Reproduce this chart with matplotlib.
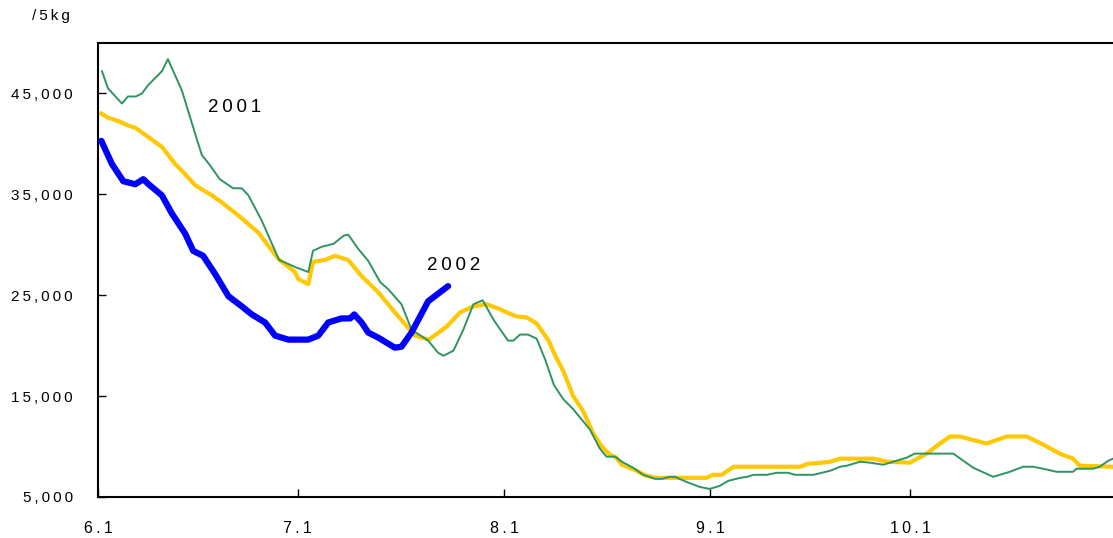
import matplotlib
matplotlib.use("Agg")
import matplotlib.pyplot as plt

# x = days since June 1
tick_days = [0, 30, 61, 92, 122]
tick_labels = ["6.1", "7.1", "8.1", "9.1", "10.1"]
y_ticks = [5000, 15000, 25000, 35000, 45000]

# 2001 (green thin line)
g_day = [0.6, 1.5, 3.6, 4.5, 5.7, 6.6, 7.5, 9.6, 10.5, 12.6, 14.6, 15.6, 16.8, 18.3,
         20.3, 21.6, 22.6, 24.6, 25.6, 27.2, 29.6, 31.6, 32.3, 33.6, 35.4, 36.9, 37.6,
         39.1, 40.6, 42.4, 43.6, 45.6, 47.1, 49.6, 51.1, 51.9, 53.4, 54.9, 56.4, 57.8,
         59.4, 61.6, 62.4, 63.4, 64.6, 65.9, 67.2, 68.5, 69.9, 71.4, 73.9, 75.4, 76.4,
         77.7, 78.7, 80.4, 81.9, 83.7, 84.7, 85.9, 86.7, 88.4, 90.4, 91.9, 93.4, 94.7,
         96.5, 97.5, 98.5, 100.5, 102.0, 103.7, 104.7, 107.5, 110.0, 111.5, 112.5, 114.5,
         116.0, 118.0, 119.5, 121.5, 122.7, 128.5, 131.5, 134.5, 137.0, 139.0, 140.5,
         142.0, 144.0, 146.5, 147.0, 149.5, 150.5, 151.8, 152.5]
g_val = [47200, 45500, 44000, 44700, 44700, 45000, 45800, 47200, 48400, 45300, 41000,
         38900, 37900, 36500, 35600, 35600, 34900, 32400, 30900, 28500, 27800, 27300,
         29400, 29800, 30100, 30900, 31000, 29600, 28400, 26300, 25600, 24100, 21600,
         20500, 19300, 19000, 19500, 21600, 24100, 24500, 22600, 20500, 20500, 21100,
         21100, 20700, 18600, 16100, 14700, 13700, 11700, 9800, 9000, 9000, 8500, 7900,
         7200, 6800, 6800, 7000, 7000, 6500, 6000, 5800, 6100, 6600, 6900, 7000, 7200,
         7200, 7400, 7400, 7200, 7200, 7600, 8000, 8100, 8500, 8400, 8200, 8500, 8900,
         9300, 9300, 7900, 7000, 7500, 8000, 8000, 7800, 7500, 7500, 7800, 7800, 8000,
         8600, 8800]

# average (yellow line)
a_day = [0.5, 1.5, 3.3, 4.6, 5.6, 7.1, 9.6, 11.6, 12.8, 14.6, 17.1, 18.6, 21.1, 24.1,
         27.1, 29.6, 30.1, 31.6, 32.3, 34.1, 35.6, 37.6, 39.6, 42.1, 44.6, 47.6, 49.7,
         52.4, 54.4, 56.4, 58.4, 60.1, 61.4, 62.9, 64.4, 65.9, 67.7, 68.7, 69.9, 71.4,
         72.9, 74.4, 75.7, 76.9, 77.9, 78.7, 80.6, 82.4, 83.9, 91.4, 92.4, 93.7, 95.5,
         105.5, 106.7, 108.7, 110.0, 111.5, 116.5, 118.5, 122.0, 124.5, 126.5, 128.0,
         129.5, 133.5, 136.5, 139.5, 142.0, 144.5, 146.5, 147.5, 152.5]
a_val = [43000, 42600, 42200, 41800, 41600, 40900, 39700, 38000, 37200, 35900, 34900,
         34200, 32900, 31200, 28600, 27300, 26600, 26100, 28300, 28500, 28900, 28500,
         26900, 25300, 23300, 21000, 20600, 21900, 23300, 23900, 24100, 23700, 23300,
         22900, 22800, 22200, 20500, 19000, 17500, 15000, 13500, 11300, 10000, 9200,
         8900, 8200, 7700, 7100, 6900, 6900, 7200, 7200, 8000, 8000, 8300, 8400, 8500,
         8800, 8800, 8500, 8400, 9300, 10300, 11000, 11000, 10300, 11000, 11000, 10200,
         9300, 8800, 8100, 8000]

# 2002 (blue thick line)
b_day = [0.5, 2.1, 3.8, 5.6, 6.8, 7.6, 9.6, 11.1, 13.1, 14.3, 15.8, 17.6, 19.6, 21.6,
         23.1, 25.1, 26.6, 28.6, 31.6, 33.1, 34.6, 36.6, 37.9, 38.5, 39.6, 40.6, 42.1,
         44.6, 45.6, 47.1, 49.6, 52.6]
b_val = [40300, 38000, 36300, 36000, 36500, 36000, 34900, 33100, 31100, 29400, 28900,
         27100, 24900, 23900, 23100, 22300, 21000, 20600, 20600, 21000, 22300, 22700,
         22700, 23100, 22300, 21300, 20800, 19800, 19900, 21300, 24400, 25900]

plt.rcParams['font.family'] = ['Liberation Sans', 'DejaVu Sans']
T = '\u2009'

def spaced(s):
    return T.join(list(s))

fig = plt.figure(figsize=(11.13, 5.38), dpi=100)
ax = fig.add_axes([98/1113, 41/538, (1113-98)/1113, (497-43)/538])

ax.plot(a_day, a_val, color='#FFC800', lw=3.0, solid_joinstyle='round', zorder=2)
ax.plot(g_day, g_val, color='#2E9461', lw=1.4, zorder=3)
ax.plot(b_day, b_val, color='#0000FF', lw=4.5, solid_capstyle='round', zorder=4)

ax.set_xlim(0, 152.5)
ax.set_ylim(5000, 50000)
ax.set_xticks(tick_days)
ax.set_xticklabels([spaced(t) for t in tick_labels])
ax.set_yticks(y_ticks)
ax.set_yticklabels([spaced(f"{v:,}") for v in y_ticks])

for sp in ['left', 'top', 'bottom']:
    ax.spines[sp].set_linewidth(1.5)
ax.spines['right'].set_visible(False)
ax.tick_params(axis='both', direction='in', length=6, width=1.0, labelsize=11)
ax.tick_params(axis='x', pad=17, labelsize=11.5)
ax.tick_params(axis='y', pad=18)

ax.text(16.5, 43600, spaced("2001"), fontsize=13.5, ha='left', va='center')
ax.text(49.5, 27900, spaced("2002"), fontsize=13.5, ha='left', va='center')
fig.text(32/1113, 1 - 16/538, spaced("/5kg"), fontsize=11, ha='left', va='center')

fig.savefig("out.png", dpi=100)
